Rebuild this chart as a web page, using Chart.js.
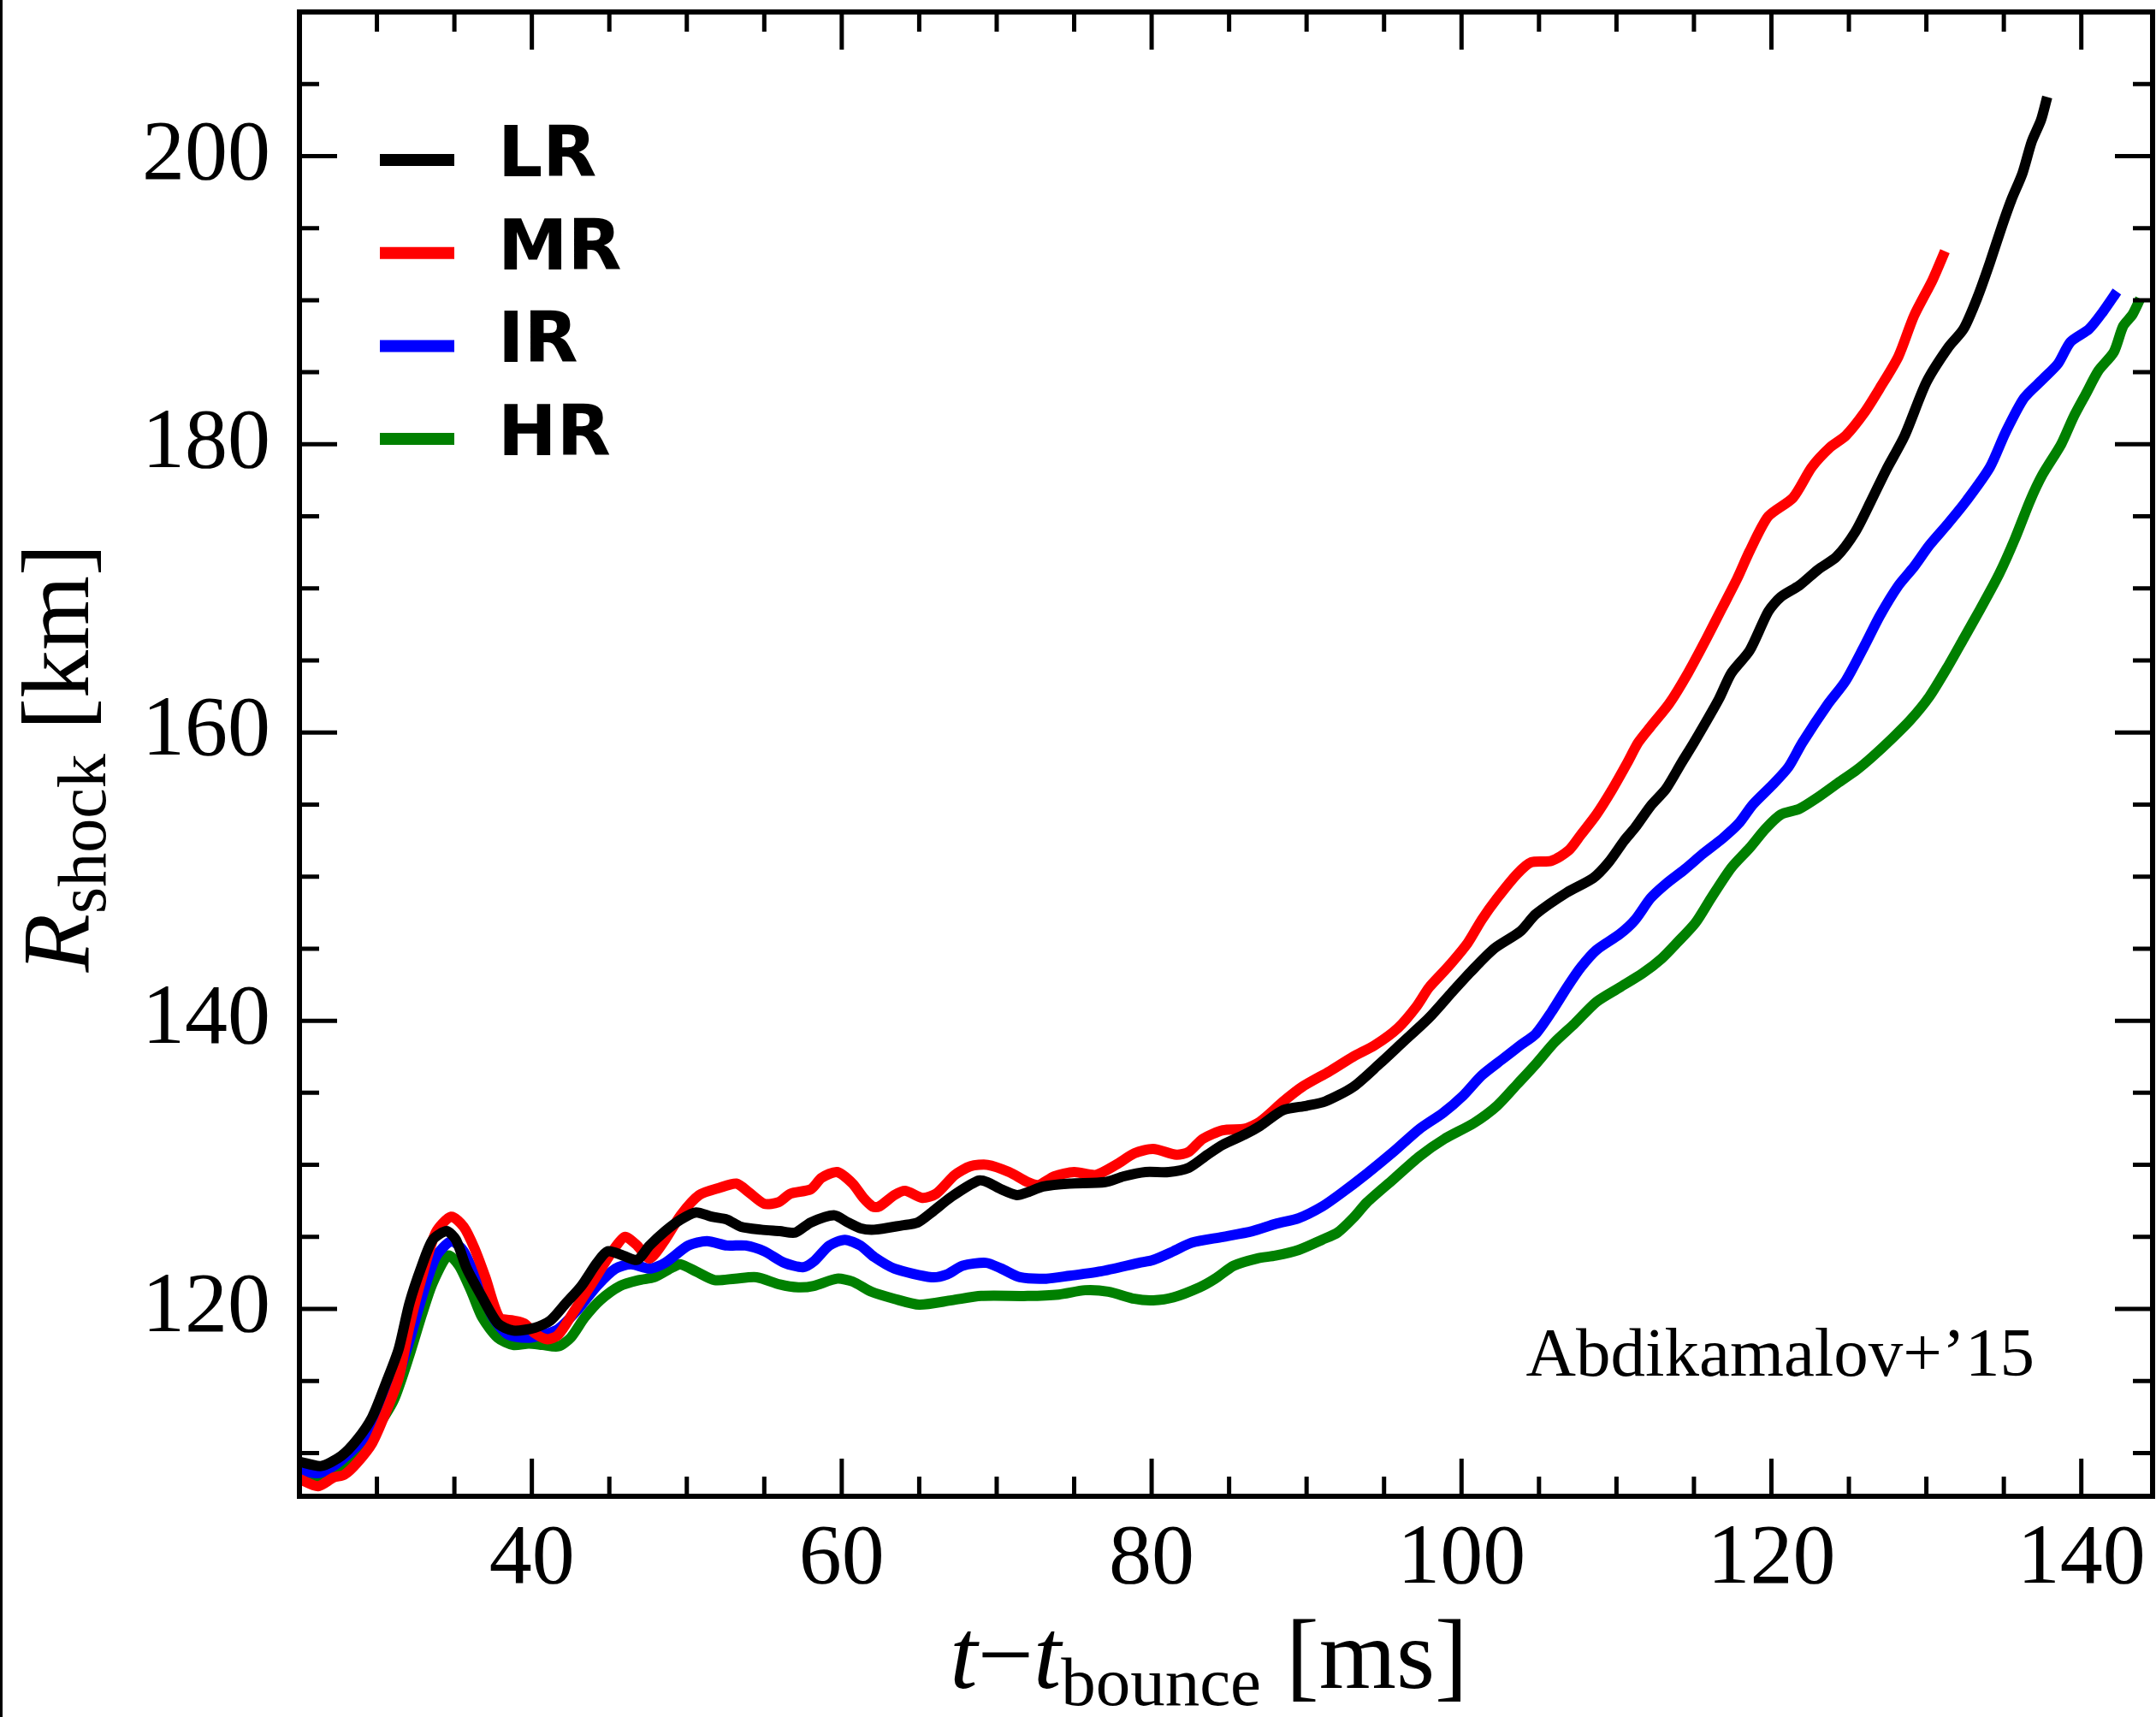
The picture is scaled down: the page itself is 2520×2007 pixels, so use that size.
<!DOCTYPE html>
<html>
<head>
<meta charset="utf-8">
<script src="https://cdn.jsdelivr.net/npm/chart.js@4"></script>
<style>
  html, body { margin: 0; padding: 0; background: #fff; }
  #wrap { width: 2520px; height: 2007px; position: relative; }
</style>
</head>
<body>
<div id="wrap"><canvas id="chart"></canvas></div>
<script>
// Shock radius vs time after bounce
const lrTime = [25.0, 26.4, 27.7, 28.7, 29.7, 30.6, 31.4, 32.1, 32.9, 33.6, 34.5, 35.1, 35.8, 36.8, 37.8, 38.8, 40.2, 41.2, 42.2, 43.2, 44.2, 44.9, 45.9, 46.8, 47.6, 48.6, 49.6, 50.6, 51.6, 52.6, 53.5, 54.8, 56.0, 57.0, 58.0, 59.5, 60.4, 61.2, 62.1, 63.9, 64.9, 65.8, 67.1, 68.8, 69.4, 70.3, 71.3, 72.0, 73.0, 74.7, 77.0, 78.2, 79.6, 81.1, 82.4, 83.6, 84.6, 86.0, 87.0, 88.5, 90.0, 91.2, 93.0, 94.7, 96.2, 97.9, 99.4, 100.6, 102.1, 103.8, 104.8, 106.8, 108.5, 109.5, 110.5, 111.2, 112.2, 113.2, 114.2, 115.0, 116.6, 117.4, 118.6, 119.8, 120.6, 121.8, 123.0, 124.2, 125.4, 126.4, 127.4, 128.6, 130.0, 131.4, 132.4, 133.3, 134.1, 134.9, 135.5, 136.2, 136.8, 137.4, 137.8];
const lrRadius = [109.4, 109.1, 109.8, 110.9, 112.5, 114.9, 117.2, 120.4, 123.0, 124.8, 125.4, 124.8, 122.8, 120.8, 119.0, 118.5, 118.7, 119.2, 120.4, 121.6, 123.2, 124.0, 123.7, 123.4, 124.4, 125.4, 126.2, 126.7, 126.4, 126.2, 125.7, 125.5, 125.4, 125.3, 126.0, 126.5, 126.0, 125.6, 125.5, 125.8, 126.0, 126.7, 127.8, 128.9, 128.8, 128.3, 127.9, 128.1, 128.5, 128.7, 128.8, 129.2, 129.5, 129.5, 129.8, 130.7, 131.4, 132.1, 132.7, 133.8, 134.1, 134.4, 135.4, 137.0, 138.5, 140.2, 142.0, 143.4, 145.0, 146.2, 147.4, 148.9, 149.9, 151.0, 152.5, 153.4, 154.9, 156.1, 157.9, 159.3, 162.3, 164.1, 165.7, 168.4, 169.4, 170.2, 171.3, 172.2, 173.9, 176.0, 178.2, 180.6, 184.3, 186.7, 188.0, 190.2, 192.6, 195.2, 197.0, 198.8, 201.0, 202.5, 204.1];

const mrTime = [25.0, 26.2, 27.2, 27.9, 28.7, 29.7, 30.6, 31.4, 32.1, 32.9, 33.8, 34.8, 35.6, 36.3, 37.0, 37.9, 38.8, 39.5, 40.2, 41.0, 41.7, 42.7, 43.9, 45.2, 46.0, 46.8, 47.6, 48.6, 49.6, 50.8, 52.1, 53.2, 54.0, 55.0, 55.9, 56.7, 58.0, 58.7, 59.7, 60.7, 61.4, 62.0, 62.4, 63.4, 64.1, 65.2, 66.1, 67.3, 68.3, 69.4, 70.8, 72.0, 72.7, 73.7, 75.0, 76.4, 77.7, 78.9, 80.1, 81.6, 82.4, 83.3, 84.6, 86.0, 87.0, 88.5, 89.7, 91.5, 93.0, 94.4, 95.9, 97.1, 97.9, 99.1, 100.4, 101.3, 102.3, 103.6, 104.5, 105.8, 106.9, 107.7, 108.7, 109.7, 110.7, 111.4, 112.2, 113.4, 114.6, 115.8, 116.8, 117.8, 118.6, 119.8, 121.4, 122.6, 123.8, 124.8, 126.0, 127.0, 128.2, 129.2, 130.4, 131.2];
const mrRadius = [108.2, 107.7, 108.3, 108.5, 109.3, 110.7, 112.9, 115.2, 118.8, 122.2, 125.3, 126.4, 125.7, 124.2, 122.2, 119.4, 119.2, 119.0, 118.3, 117.9, 118.2, 119.8, 121.8, 124.0, 125.0, 124.4, 123.5, 124.8, 126.5, 127.9, 128.4, 128.7, 128.1, 127.3, 127.4, 128.0, 128.3, 129.1, 129.5, 128.7, 127.7, 127.1, 127.1, 127.9, 128.2, 127.7, 128.0, 129.3, 129.9, 130.0, 129.5, 128.8, 128.6, 129.2, 129.5, 129.3, 130.0, 130.8, 131.1, 130.7, 130.9, 131.8, 132.4, 132.5, 133.0, 134.4, 135.4, 136.5, 137.5, 138.3, 139.5, 141.0, 142.3, 143.7, 145.4, 147.0, 148.5, 150.2, 151.0, 151.1, 151.8, 152.9, 154.3, 156.0, 157.9, 159.3, 160.4, 162.0, 164.1, 166.5, 168.6, 170.7, 172.6, 175.0, 176.3, 178.4, 179.8, 180.6, 182.2, 183.9, 186.1, 188.9, 191.4, 193.4];

const irTime = [25.0, 26.2, 26.9, 27.7, 28.9, 30.1, 31.1, 32.1, 32.9, 33.8, 34.8, 35.6, 36.6, 37.5, 38.5, 39.8, 40.7, 41.7, 43.0, 44.2, 45.4, 46.4, 47.6, 48.6, 50.1, 51.3, 52.6, 53.8, 55.0, 56.3, 57.5, 58.2, 59.2, 60.2, 61.2, 62.1, 63.4, 65.8, 66.8, 67.8, 69.3, 70.3, 71.5, 73.2, 74.7, 76.7, 79.2, 80.1, 81.4, 82.6, 84.6, 86.5, 88.0, 89.5, 91.0, 92.2, 93.9, 95.6, 97.3, 98.8, 100.1, 101.3, 102.6, 103.8, 104.8, 105.8, 106.8, 107.7, 108.7, 110.2, 111.2, 112.2, 113.2, 114.4, 115.6, 116.9, 117.9, 118.8, 120.1, 121.1, 122.0, 123.6, 124.8, 126.0, 127.0, 128.2, 129.2, 130.2, 131.4, 132.6, 134.1, 135.1, 136.3, 137.5, 138.5, 139.3, 140.5, 141.4, 142.3];
const irRadius = [108.8, 108.6, 108.9, 109.5, 110.7, 112.5, 114.5, 117.8, 120.8, 123.6, 124.7, 124.0, 121.6, 119.4, 118.2, 118.0, 118.2, 118.6, 120.0, 121.6, 122.8, 123.1, 122.8, 123.2, 124.4, 124.7, 124.4, 124.4, 124.0, 123.2, 122.9, 123.3, 124.4, 124.8, 124.4, 123.6, 122.8, 122.2, 122.4, 123.0, 123.2, 122.8, 122.2, 122.1, 122.3, 122.6, 123.2, 123.4, 124.0, 124.6, 125.0, 125.4, 125.9, 126.3, 127.1, 128.0, 129.4, 130.9, 132.5, 133.6, 134.8, 136.2, 137.3, 138.3, 139.1, 140.6, 142.3, 143.7, 144.9, 146.0, 147.0, 148.5, 149.5, 150.5, 151.6, 152.7, 153.7, 155.0, 156.4, 157.6, 159.3, 161.9, 163.6, 166.0, 168.1, 170.2, 171.5, 173.0, 174.5, 176.1, 178.4, 180.8, 183.2, 184.5, 185.6, 187.1, 188.0, 189.2, 190.6];

const hrTime = [25.0, 26.0, 26.9, 27.7, 28.9, 30.1, 31.1, 32.1, 32.9, 33.6, 34.6, 35.3, 36.1, 36.8, 37.8, 38.8, 39.8, 40.7, 41.7, 42.5, 43.4, 44.4, 45.7, 46.9, 47.9, 49.1, 49.6, 50.6, 51.8, 53.1, 54.5, 56.0, 57.2, 58.2, 59.7, 60.7, 61.9, 63.4, 65.0, 67.1, 69.0, 72.0, 74.0, 75.7, 77.2, 78.9, 80.1, 81.4, 83.1, 84.1, 85.3, 86.8, 88.0, 89.5, 91.0, 92.0, 93.0, 93.9, 95.6, 97.3, 98.9, 100.8, 102.3, 103.6, 104.8, 106.0, 107.3, 108.7, 110.2, 111.7, 112.9, 113.9, 115.1, 116.1, 117.4, 118.6, 119.6, 120.6, 121.8, 123.0, 124.3, 125.5, 126.5, 127.8, 129.0, 130.2, 131.4, 132.4, 133.5, 134.7, 135.7, 136.7, 137.5, 138.7, 139.5, 140.3, 141.1, 142.1, 142.7, 143.3, 143.8];
const hrRadius = [108.8, 108.2, 108.3, 109.1, 110.1, 111.9, 113.7, 116.8, 119.6, 121.8, 123.7, 123.0, 121.2, 119.4, 118.0, 117.5, 117.6, 117.5, 117.4, 118.0, 119.4, 120.6, 121.6, 122.0, 122.2, 122.9, 123.1, 122.6, 122.0, 122.1, 122.2, 121.7, 121.5, 121.6, 122.1, 121.9, 121.2, 120.7, 120.3, 120.6, 120.9, 120.9, 121.0, 121.3, 121.2, 120.7, 120.6, 120.8, 121.5, 122.1, 123.0, 123.5, 123.7, 124.1, 124.8, 125.3, 126.3, 127.4, 129.0, 130.6, 131.8, 132.9, 134.1, 135.6, 137.0, 138.5, 139.8, 141.3, 142.3, 143.3, 144.3, 145.4, 146.8, 148.5, 150.6, 152.0, 153.3, 154.3, 154.7, 155.5, 156.5, 157.4, 158.3, 159.6, 160.9, 162.5, 164.6, 166.5, 168.6, 171.0, 173.4, 176.1, 177.9, 180.0, 181.9, 183.5, 185.1, 186.4, 188.2, 189.0, 190.1];

const runNames = ['LR', 'MR', 'IR', 'HR'];
const runColors = ['#000000', '#ff0000', '#0000ff', '#008000'];
const xTicks = [40, 60, 80, 100, 120, 140];
const yTicks = [120, 140, 160, 180, 200];

const SERIF = '"Liberation Serif", "DejaVu Serif", serif';

function toPoints(ts, rs) {
    return ts.map((t, i) => ({ x: t, y: rs[i] }));
}

const series = [
    toPoints(lrTime, lrRadius),
    toPoints(mrTime, mrRadius),
    toPoints(irTime, irRadius),
    toPoints(hrTime, hrRadius)
];

// draw text pieces one after the other (for subscripts)
function drawPieces(ctx, pieces, cx, baseline) {
    let total = 0;
    pieces.forEach(p => { ctx.font = p.font; p.w = ctx.measureText(p.text).width; total += p.w; });
    let x = cx - total / 2;
    ctx.textAlign = 'left';
    ctx.textBaseline = 'alphabetic';
    pieces.forEach(p => {
        ctx.font = p.font;
        ctx.fillText(p.text, x, baseline + (p.dy || 0));
        x += p.w;
    });
}

// frame, inward ticks, legend, labels
const decorPlugin = {
    id: 'decor',
    afterDraw(chart) {
        const ctx = chart.ctx;
        const a = chart.chartArea;
        const xs = chart.scales.x;
        const ys = chart.scales.y;
        ctx.save();
        ctx.strokeStyle = '#000';
        ctx.fillStyle = '#000';

        // ticks
        ctx.lineWidth = 5;
        ctx.lineCap = 'butt';
        ctx.beginPath();
        for (let v = 30; v <= 144; v += 5) {
            const px = xs.getPixelForValue(v);
            const len = v % 20 === 0 ? 44 : 23;
            ctx.moveTo(px, a.bottom); ctx.lineTo(px, a.bottom - len);
            ctx.moveTo(px, a.top); ctx.lineTo(px, a.top + len);
        }
        for (let v = 110; v <= 205; v += 5) {
            const py = ys.getPixelForValue(v);
            const len = v % 20 === 0 ? 44 : 23;
            ctx.moveTo(a.left, py); ctx.lineTo(a.left + len, py);
            ctx.moveTo(a.right, py); ctx.lineTo(a.right - len, py);
        }
        ctx.stroke();

        // frame
        ctx.lineWidth = 6;
        ctx.strokeRect(a.left, a.top, a.right - a.left, a.bottom - a.top);

        // edge line at far left
        ctx.fillRect(0, 0, 3, chart.height);

        // legend
        runNames.forEach((name, i) => {
            const y = 187 + i * 108.7;
            ctx.strokeStyle = runColors[i];
            ctx.lineWidth = 14;
            ctx.beginPath();
            ctx.moveTo(444, y); ctx.lineTo(531, y);
            ctx.stroke();
            ctx.fillStyle = '#000';
            ctx.font = 'bold 82px "DejaVu Sans", sans-serif';
            ctx.textAlign = 'left';
            ctx.textBaseline = 'alphabetic';
            ctx.fillText(name, 582, 206 + i * 108.7);
        });

        // annotation
        ctx.font = '81px ' + SERIF;
        ctx.textAlign = 'right';
        ctx.textBaseline = 'alphabetic';
        ctx.fillText('Abdikamalov+\u201915', 2378, 1608);

        // x axis title
        drawPieces(ctx, [
            { text: 't', font: 'italic 116px ' + SERIF },
            { text: '\u2212', font: '116px ' + SERIF },
            { text: 't', font: 'italic 116px ' + SERIF },
            { text: 'bounce', font: '81px ' + SERIF, dy: 20 },
            { text: ' [ms]', font: '116px ' + SERIF }
        ], 1413, 1973);

        // y axis title
        ctx.save();
        ctx.translate(103, 886);
        ctx.rotate(-Math.PI / 2);
        drawPieces(ctx, [
            { text: 'R', font: 'italic 112px ' + SERIF },
            { text: 'shock', font: '80px ' + SERIF, dy: 20 },
            { text: ' [km]', font: '112px ' + SERIF }
        ], 0, 0);
        ctx.restore();

        ctx.restore();
    }
};

new Chart(document.getElementById('chart'), {
    type: 'line',
    data: {
        datasets: series.map((pts, i) => ({
            label: runNames[i],
            data: pts,
            borderColor: runColors[i],
            backgroundColor: runColors[i],
            borderWidth: 12,
            pointRadius: 0,
            tension: 0.25,
            fill: false
        }))
    },
    options: {
        responsive: true,
        maintainAspectRatio: false,
        animation: false,
        devicePixelRatio: 1,
        layout: { padding: { left: 0, right: 4, top: 14, bottom: 0 } },
        plugins: {
            legend: { display: false },
            tooltip: { enabled: false }
        },
        scales: {
            x: {
                type: 'linear',
                min: 25,
                max: 144.6,
                grid: { display: false, drawTicks: false },
                border: { display: false },
                afterFit: s => {
                    s.height = 2007 - 1749;
                    s.paddingLeft = 0; s.paddingRight = 0;
                },
                afterBuildTicks: s => { s.ticks = xTicks.map(v => ({ value: v })); },
                ticks: {
                    color: '#000',
                    padding: 15,
                    maxRotation: 0,
                    autoSkip: false,
                    font: { family: SERIF, size: 100 },
                    callback: v => String(v)
                }
            },
            y: {
                type: 'linear',
                min: 107,
                max: 210,
                grid: { display: false, drawTicks: false },
                border: { display: false },
                afterFit: s => {
                    s.width = 350;
                    s.paddingTop = 0; s.paddingBottom = 0;
                },
                afterBuildTicks: s => { s.ticks = yTicks.map(v => ({ value: v })); },
                ticks: {
                    color: '#000',
                    padding: 34,
                    autoSkip: false,
                    font: { family: SERIF, size: 100 },
                    callback: v => String(v)
                }
            }
        }
    },
    plugins: [decorPlugin]
});
</script>
</body>
</html>
